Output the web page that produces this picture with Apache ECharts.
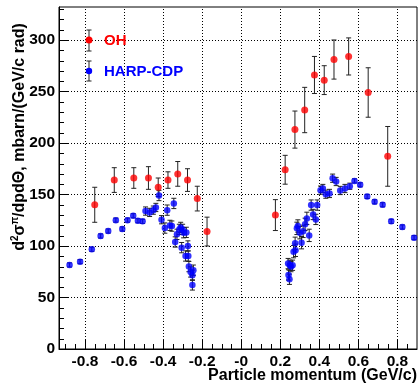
<!DOCTYPE html>
<html>
<head>
<meta charset="utf-8">
<script src="https://cdn.jsdelivr.net/npm/echarts@6/dist/echarts.min.js"></script>
<style>
  html, body { margin: 0; padding: 0; background: #fff; }
  #chart { width: 418px; height: 385px; }
</style>
</head>
<body>
<div id="chart"></div>
<script>
// OH data points (momentum GeV/c, cross-section, error)
const ohX = [-0.75, -0.65, -0.55, -0.475, -0.425, -0.375, -0.325, -0.275, -0.225, -0.175,
  0.175, 0.225, 0.275, 0.325, 0.375, 0.425, 0.475, 0.55, 0.65, 0.75];
const ohY = [140, 164, 166, 166, 157, 164, 170, 164, 146, 114,
  130, 174, 213, 232, 266, 261, 281, 284, 249, 187];
const ohErr = [17, 12, 10, 11, 9, 8, 12, 11, 12, 14,
  15, 14, 18, 22, 18, 14, 19, 18, 24, 29];

// HARP-CDP data points
const cdpX = [-0.879, -0.825, -0.765, -0.72, -0.681, -0.642, -0.609, -0.582, -0.553, -0.529,
  -0.505, -0.49, -0.469, -0.45, -0.437, -0.421, -0.408, -0.391, -0.379, -0.365,
  -0.355, -0.345, -0.338, -0.329, -0.317, -0.31, -0.305, -0.3, -0.295, -0.285,
  -0.281, -0.273, -0.271, -0.268, -0.259, -0.25, -0.245, -0.25,
  0.24, 0.242, 0.247, 0.249, 0.255, 0.263, 0.268, 0.278, 0.276, 0.285,
  0.29, 0.3, 0.309, 0.317, 0.327, 0.336, 0.348, 0.358, 0.368, 0.382,
  0.389, 0.406, 0.418, 0.433, 0.452, 0.468, 0.486, 0.507, 0.531, 0.556,
  0.58, 0.609, 0.645, 0.683, 0.724, 0.768, 0.825, 0.885];
const cdpY = [81.6, 84.8, 96.8, 109.7, 114.5, 125.1, 116.5, 125.1, 129.4, 124.5,
  123.9, 133.9, 132.6, 134.8, 137.4, 149, 125.5, 117.4, 134.8, 120,
  119.3, 141.3, 103.9, 111.3, 116.1, 118, 98.4, 116.1, 112.9, 90.3,
  113.2, 100, 90.3, 80, 74.8, 71.6, 76.5, 62.2,
  82.9, 71.9, 67.7, 81.3, 80, 81.3, 94.5, 95.8, 102.6, 117.1,
  119.4, 112.9, 103.2, 114.2, 121, 126.8, 110.3, 139.7, 130.6, 125.8,
  139.7, 154.2, 155.8, 150.3, 151, 165.8, 162.6, 153.9, 155.8, 158,
  163.2, 159.4, 148.1, 142.9, 140, 123.9, 118.4, 108.1];
const cdpErr = [2, 2, 2, 2, 2, 2, 2, 2, 2, 2,
  2, 4, 4, 4, 4, 5, 4, 5, 5, 5,
  5, 5, 5, 5, 5, 5, 5, 5, 5, 5,
  5, 5, 5, 5, 5, 5, 5, 5,
  5, 5, 5, 5, 5, 5, 6, 6, 6, 6,
  6, 6, 6, 6, 6, 6, 6, 5, 5, 5,
  5, 4, 4, 4, 4, 4, 4, 4, 4, 3,
  2, 2, 2, 2, 2, 2, 2, 2];

// axis ticks
const xMajor = [-0.8, -0.6, -0.4, -0.2, 0, 0.2, 0.4, 0.6, 0.8];
const xLabels = ["-0.8", "-0.6", "-0.4", "-0.2", "-0", "0.2", "0.4", "0.6", "0.8"];
const xMinor = [-0.9, -0.85, -0.75, -0.7, -0.65, -0.55, -0.5, -0.45, -0.35, -0.3, -0.25,
  -0.15, -0.1, -0.05, 0.05, 0.1, 0.15, 0.25, 0.3, 0.35, 0.45, 0.5, 0.55, 0.65, 0.7, 0.75, 0.85];
const yMajor = [50, 100, 150, 200, 250, 300];
const yMinor = [10, 20, 30, 40, 60, 70, 80, 90, 110, 120, 130, 140, 160, 170, 180, 190,
  210, 220, 230, 240, 260, 270, 280, 290, 310, 320, 330];

const FONT = "'Liberation Sans', Arial, sans-serif";
const X_MIN = -0.933, X_MAX = 0.9, Y_MIN = 0, Y_MAX = 332;

const chart = echarts.init(document.getElementById("chart"));

const px = (v) => Math.round(v) + 0.5;

function errorBars(capHalf) {
  return function (params, api) {
    const x = api.value(0), y = api.value(1), e = api.value(2);
    const top = api.coord([x, y + e]);
    const bot = api.coord([x, y - e]);
    return {
      type: "group",
      children: [
        { type: "line", shape: { x1: top[0], y1: top[1], x2: bot[0], y2: bot[1] }, style: { stroke: "#222", lineWidth: 1 } },
        { type: "line", shape: { x1: top[0] - capHalf, y1: top[1], x2: top[0] + capHalf, y2: top[1] }, style: { stroke: "#222", lineWidth: 1 } },
        { type: "line", shape: { x1: bot[0] - capHalf, y1: bot[1], x2: bot[0] + capHalf, y2: bot[1] }, style: { stroke: "#222", lineWidth: 1 } },
      ],
    };
  };
}

// vertical grid line + tick at an x value (value in dim 0)
function xTick(len, withGrid) {
  return function (params, api) {
    const b = api.coord([api.value(0), Y_MIN]);
    const t = api.coord([api.value(0), Y_MAX]);
    const x = px(b[0]);
    const children = [
      { type: "line", shape: { x1: x, y1: b[1], x2: x, y2: b[1] - len }, style: { stroke: "#000", lineWidth: 1 } },
    ];
    if (withGrid) {
      children.push({ type: "line", shape: { x1: x, y1: b[1], x2: x, y2: t[1] }, style: { stroke: "#000", lineWidth: 1, lineDash: [1, 2] } });
    }
    return { type: "group", children };
  };
}

// horizontal grid line + tick at a y value (value in dim 1)
function yTick(len, withGrid) {
  return function (params, api) {
    const l = api.coord([X_MIN, api.value(1)]);
    const r = api.coord([X_MAX, api.value(1)]);
    const y = px(l[1]);
    const children = [
      { type: "line", shape: { x1: l[0], y1: y, x2: l[0] + len, y2: y }, style: { stroke: "#000", lineWidth: 1 } },
    ];
    if (withGrid) {
      children.push({ type: "line", shape: { x1: l[0], y1: y, x2: r[0], y2: y }, style: { stroke: "#000", lineWidth: 1, lineDash: [1, 2] } });
    }
    return { type: "group", children };
  };
}

const ohData = ohX.map((x, i) => [x, ohY[i], ohErr[i]]);
const cdpData = cdpX.map((x, i) => [x, cdpY[i], cdpErr[i]]);

function xLabel(v) {
  const i = xMajor.findIndex((t) => Math.abs(t - v) < 1e-6);
  return i < 0 ? "" : xLabels[i];
}

const option = {
  animation: false,
  grid: {
    left: 59, right: 1, top: 7, bottom: 36,
    show: true, backgroundColor: "transparent", borderColor: "#000", borderWidth: 1,
  },
  xAxis: {
    type: "value", min: X_MIN, max: X_MAX, splitNumber: 9,
    axisLine: { onZero: false, lineStyle: { color: "#000", width: 1 } },
    axisTick: { show: false },
    axisLabel: {
      formatter: xLabel, showMinLabel: false, showMaxLabel: false,
      color: "#000", fontFamily: FONT, fontWeight: "bold", fontSize: 15.5, margin: 5,
    },
    splitLine: { show: false },
  },
  yAxis: {
    type: "value", min: Y_MIN, max: Y_MAX, interval: 50,
    axisLine: { show: true, onZero: false, lineStyle: { color: "#000", width: 1 } },
    axisTick: { show: false },
    axisLabel: {
      showMaxLabel: false,
      color: "#000", fontFamily: FONT, fontWeight: "bold", fontSize: 15.5, margin: 4,
    },
    splitLine: { show: false },
  },
  series: [
    { type: "custom", renderItem: xTick(9, true), data: xMajor.map((v) => [v, Y_MIN, 0]), encode: { x: 0, y: 1 }, z: 3, silent: true },
    { type: "custom", renderItem: xTick(5, false), data: xMinor.map((v) => [v, Y_MIN, 0]), encode: { x: 0, y: 1 }, z: 3, silent: true },
    { type: "custom", renderItem: yTick(10, true), data: yMajor.map((v) => [X_MIN, v, 0]), encode: { x: 0, y: 1 }, z: 3, silent: true },
    { type: "custom", renderItem: yTick(5, false), data: yMinor.map((v) => [X_MIN, v, 0]), encode: { x: 0, y: 1 }, z: 3, silent: true },
    {
      name: "HARP-CDP err", type: "custom", renderItem: errorBars(2.5),
      data: cdpData, encode: { x: 0, y: 1 }, z: 4, silent: true,
    },
    {
      name: "OH err", type: "custom", renderItem: errorBars(2.5),
      data: ohData, encode: { x: 0, y: 1 }, z: 4, silent: true,
    },
    {
      name: "HARP-CDP", type: "scatter", data: cdpData, symbol: "circle", symbolSize: 6.5,
      itemStyle: { color: "#0000ff" }, z: 5,
    },
    {
      name: "OH", type: "scatter", data: ohData, symbol: "circle", symbolSize: 7,
      itemStyle: { color: "#ff0000" }, z: 6,
    },
  ],
  graphic: [
    // legend
    { type: "line", shape: { x1: 89, y1: 30, x2: 89, y2: 51 }, style: { stroke: "#222" }, z: 10 },
    { type: "line", shape: { x1: 86.5, y1: 30, x2: 91.5, y2: 30 }, style: { stroke: "#222" }, z: 10 },
    { type: "line", shape: { x1: 86.5, y1: 51, x2: 91.5, y2: 51 }, style: { stroke: "#222" }, z: 10 },
    { type: "circle", shape: { cx: 89, cy: 40, r: 3.5 }, style: { fill: "#ff0000" }, z: 11 },
    { type: "text", x: 104, y: 41, style: { text: "OH", fill: "#ff0000", font: "bold 15px " + FONT, verticalAlign: "middle" }, z: 11 },
    { type: "line", shape: { x1: 89, y1: 61, x2: 89, y2: 81 }, style: { stroke: "#222" }, z: 10 },
    { type: "line", shape: { x1: 86.5, y1: 61, x2: 91.5, y2: 61 }, style: { stroke: "#222" }, z: 10 },
    { type: "line", shape: { x1: 86.5, y1: 81, x2: 91.5, y2: 81 }, style: { stroke: "#222" }, z: 10 },
    { type: "circle", shape: { cx: 89, cy: 71, r: 3.2 }, style: { fill: "#0000ff" }, z: 11 },
    { type: "text", x: 104, y: 72, style: { text: "HARP-CDP", fill: "#0000ff", font: "bold 15px " + FONT, verticalAlign: "middle" }, z: 11 },
    // axis titles
    {
      type: "text", x: 417, y: 376,
      style: { text: "Particle momentum (GeV/c)", fill: "#000", font: "bold 16px " + FONT, align: "right", verticalAlign: "middle" },
    },
    {
      type: "text", x: 19, y: 137, rotation: Math.PI / 2,
      style: {
        text: "{t|d}{s|2}{t|σ}{s|π}{t|/dpdΘ, mbarn/(GeV/c rad)}",
        align: "center", verticalAlign: "middle",
        rich: {
          t: { font: "bold 16px " + FONT, fill: "#000", lineHeight: 18, verticalAlign: "bottom" },
          s: { font: "bold 10px " + FONT, fill: "#000", lineHeight: 18, verticalAlign: "top" },
        },
      },
    },
  ],
};

chart.setOption(option);
</script>
</body>
</html>
